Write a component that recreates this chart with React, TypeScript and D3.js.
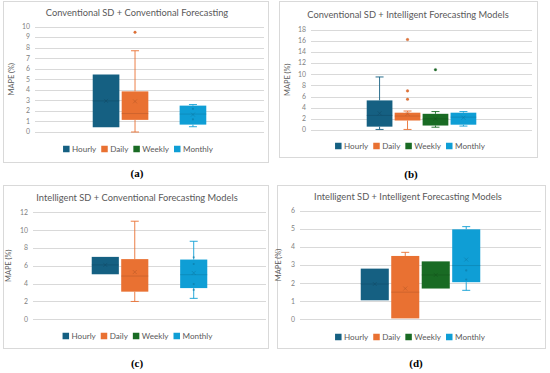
import React from "react";
import * as d3 from "d3";

const SERIES = ["Hourly", "Daily", "Weekly", "Monthly"];
const COLORS = ["#156082", "#E97132", "#196B24", "#0F9ED5"];

type Box = { min: number; q1: number; med: number; q3: number; max: number; mean: number; out: number[]; inner: number[] } | null;

// Panel (a) Conventional SD + Conventional Forecasting
const boxesA: Box[] = [
  { min: 0.45, q1: 0.45, med: 2.95, q3: 5.45, max: 5.45, mean: 2.95, out: [], inner: [] },
  { min: 0.0, q1: 1.15, med: 1.75, q3: 3.85, max: 7.7, mean: 2.9, out: [9.45], inner: [] },
  null,
  { min: 0.5, q1: 0.7, med: 1.7, q3: 2.5, max: 2.6, mean: 1.65, out: [], inner: [2.2, 1.2] },
];
// Panel (b) Conventional SD + Intelligent Forecasting Models
const boxesB: Box[] = [
  { min: 0.1, q1: 0.6, med: 2.6, q3: 5.3, max: 9.5, mean: 3.0, out: [], inner: [] },
  { min: 0.1, q1: 1.7, med: 2.5, q3: 3.1, max: 3.4, mean: 2.9, out: [16.2, 7.0, 5.5], inner: [] },
  { min: 0.5, q1: 0.8, med: 2.0, q3: 2.9, max: 3.3, mean: 2.0, out: [10.8], inner: [] },
  { min: 0.7, q1: 0.95, med: 2.3, q3: 3.1, max: 3.3, mean: 2.2, out: [], inner: [] },
];
// Panel (c) Intelligent SD + Conventional Forecasting Models
const boxesC: Box[] = [
  { min: 5.05, q1: 5.05, med: 6.1, q3: 7.0, max: 7.0, mean: 6.1, out: [], inner: [] },
  { min: 2.0, q1: 3.1, med: 4.85, q3: 6.75, max: 11.0, mean: 5.3, out: [], inner: [] },
  null,
  { min: 2.35, q1: 3.5, med: 5.0, q3: 6.7, max: 8.75, mean: 5.2, out: [], inner: [6.95, 6.2, 3.95, 3.3] },
];
// Panel (d) Intelligent SD + Intelligent Forecasting Models
const boxesD: Box[] = [
  { min: 1.05, q1: 1.05, med: 1.95, q3: 2.8, max: 2.8, mean: 1.95, out: [], inner: [] },
  { min: 0.05, q1: 0.05, med: 1.5, q3: 3.5, max: 3.7, mean: 1.7, out: [], inner: [] },
  { min: 1.7, q1: 1.7, med: 2.45, q3: 3.2, max: 3.2, mean: 2.45, out: [], inner: [] },
  { min: 1.6, q1: 2.05, med: 2.97, q3: 4.97, max: 5.12, mean: 3.3, out: [], inner: [2.7, 2.2] },
];

const TITLES = [
  "Conventional SD + Conventional Forecasting",
  "Conventional SD + Intelligent Forecasting Models",
  "Intelligent SD + Conventional Forecasting Models",
  "Intelligent SD + Intelligent Forecasting Models",
];
const LABELS = ["(a)", "(b)", "(c)", "(d)"];
const Y_MAX = [10, 18, 12, 6];
const Y_STEP = [1, 2, 2, 1];

const LAYOUT = [
  { fx: 3, fy: 1, fw: 265, fh: 161, l: 35, r: 264, t: 26.5, b: 132, ty: 16, tx: 137, ly: 149, lcx: 138, ytx: 14, lx: 137, lby: 177 },
  { fx: 279, fy: 1, fw: 258, fh: 156, l: 311, r: 532, t: 29.5, b: 130, ty: 18, tx: 408, ly: 146, lcx: 410, ytx: 290, lx: 411, lby: 178 },
  { fx: 3, fy: 185, fw: 265, fh: 163, l: 33, r: 266, t: 212.3, b: 319.3, ty: 201, tx: 137, ly: 336, lcx: 137.5, ytx: 11, lx: 137, lby: 366.5 },
  { fx: 277, fy: 185, fw: 268, fh: 163, l: 300, r: 541, t: 210.7, b: 319.3, ty: 200, tx: 408, ly: 337, lcx: 410, ytx: 281, lx: 416, lby: 366.5 },
];

const FONT = "Lato, 'Open Sans', sans-serif";
const TEXT = "#595959";

let measureCtx: CanvasRenderingContext2D | null = null;
function measure(txt: string, size: number) {
  if (!measureCtx) measureCtx = document.createElement("canvas").getContext("2d");
  if (!measureCtx) return txt.length * size * 0.5;
  measureCtx.font = `${size}px Lato`;
  return measureCtx.measureText(txt).width;
}

function Panel({ idx, boxes }: { idx: number; boxes: Box[] }) {
  const L = LAYOUT[idx];
  const y = d3.scaleLinear().domain([0, Y_MAX[idx]]).range([L.b, L.t]);
  const ticks = d3.range(0, Y_MAX[idx] + 0.001, Y_STEP[idx]);
  const cx = (L.l + L.r) / 2;
  const gw = (L.r - L.l) * 0.506;
  const x = d3.scaleBand<string>().domain(SERIES).range([cx - gw / 2, cx + gw / 2]).paddingInner(0.08).paddingOuter(0.04);
  const bw = x.bandwidth();

  const legSize = 8.1;
  const gapBetween = 5;
  const items = SERIES.map((s) => ({ s, w: 6.5 + 2.5 + measure(s, legSize) + gapBetween }));
  const total = items.reduce((a, b) => a + b.w, 0) - gapBetween;
  let lx0 = L.lcx - total / 2;
  const legend = items.map((it, i) => {
    const gx = lx0;
    lx0 += it.w;
    return (
      <g key={it.s} transform={`translate(${gx},${L.ly})`}>
        <rect x={0} y={-3.25} width={6.5} height={6.5} fill={COLORS[i]} />
        <text x={9} y={3} fontSize={legSize} fill={TEXT} fontFamily={FONT}>{it.s}</text>
      </g>
    );
  });

  return (
    <g>
      <rect x={L.fx + 0.5} y={L.fy + 0.5} width={L.fw} height={L.fh} fill="#fff" stroke="#d9d9d9" strokeWidth={1} />
      <text x={L.tx} y={L.ty} textAnchor="middle" fontSize={9.3} fill={TEXT} fontFamily={FONT}>{TITLES[idx]}</text>
      {ticks.map((t) => (
        <g key={t}>
          <line x1={L.l} x2={L.r} y1={Math.round(y(t)) + 0.5} y2={Math.round(y(t)) + 0.5} stroke="#d9d9d9" strokeWidth={1} />
          <text x={L.l - 5} y={y(t) + 2.4} textAnchor="end" fontSize={6.9} fill="#7f7f7f" fontFamily={FONT}>{t}</text>
        </g>
      ))}
      <text transform={`translate(${L.ytx},${(L.t + L.b) / 2}) rotate(-90)`} textAnchor="middle" fontSize={7.4} fill={TEXT} fontFamily={FONT}>MAPE (%)</text>
      {boxes.map((b, i) => {
        if (!b) return null;
        const s = SERIES[i];
        const x0 = x(s)!;
        const xc = x0 + bw / 2;
        const c = COLORS[i];
        const dark = d3.color(c)!.darker(0.8).formatHex();
        const cap = 4;
        return (
          <g key={s}>
            {b.max > b.q3 && (
              <g stroke={c} strokeWidth={0.9}>
                <line x1={xc} x2={xc} y1={y(b.q3)} y2={y(b.max)} />
                <line x1={xc - cap} x2={xc + cap} y1={y(b.max)} y2={y(b.max)} />
              </g>
            )}
            {b.min < b.q1 && (
              <g stroke={c} strokeWidth={0.9}>
                <line x1={xc} x2={xc} y1={y(b.q1)} y2={y(b.min)} />
                <line x1={xc - cap} x2={xc + cap} y1={y(b.min)} y2={y(b.min)} />
              </g>
            )}
            <rect x={x0} y={y(b.q3)} width={bw} height={y(b.q1) - y(b.q3)} fill={c} />
            <line x1={x0} x2={x0 + bw} y1={y(b.med)} y2={y(b.med)} stroke={dark} strokeOpacity={0.55} strokeWidth={0.8} />
            <g stroke={dark} strokeOpacity={0.6} strokeWidth={0.8}>
              <line x1={xc - 2} x2={xc + 2} y1={y(b.mean) - 2} y2={y(b.mean) + 2} />
              <line x1={xc - 2} x2={xc + 2} y1={y(b.mean) + 2} y2={y(b.mean) - 2} />
            </g>
            {b.inner.map((v, k) => (
              <circle key={"i" + k} cx={xc} cy={y(v)} r={1.1} fill={dark} fillOpacity={0.6} />
            ))}
            {b.out.map((v, k) => (
              <circle key={"o" + k} cx={xc} cy={y(v)} r={1.3} fill={c} stroke={dark} strokeWidth={0.3} />
            ))}
          </g>
        );
      })}
      {legend}
      <text x={L.lx} y={L.lby} textAnchor="middle" fontSize={11} fontWeight="bold" fill="#000" fontFamily="'Liberation Serif', serif">{LABELS[idx]}</text>
    </g>
  );
}

export default function App() {
  const all = [boxesA, boxesB, boxesC, boxesD];
  return (
    <svg width={550} height={373} style={{ position: "absolute", left: 0, top: 0, background: "#fff" }}>
      <rect width={550} height={373} fill="#fff" />
      {all.map((b, i) => (
        <Panel key={i} idx={i} boxes={b} />
      ))}
    </svg>
  );
}
